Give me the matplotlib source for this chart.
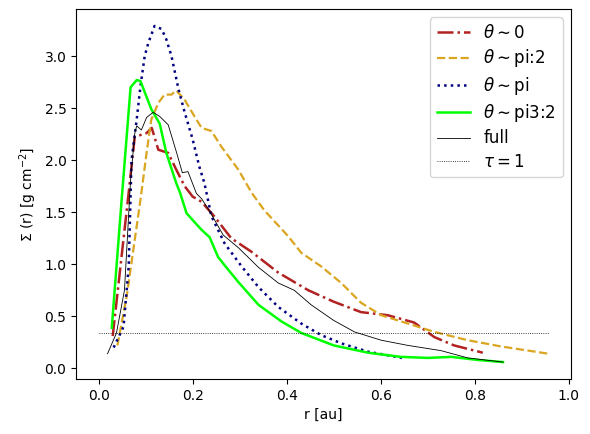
import numpy as np
import matplotlib
matplotlib.use("Agg")
import matplotlib.pyplot as plt

# radius [au] and surface density [g cm^-2]
r_0 = [0.030, 0.064, 0.077, 0.088, 0.102, 0.113, 0.127, 0.148, 0.165, 0.183, 0.200, 0.219,
       0.246, 0.282, 0.325, 0.382, 0.446, 0.500, 0.558, 0.615, 0.671, 0.714, 0.756, 0.817]
s_0 = [0.31, 1.69, 2.23, 2.24, 2.26, 2.31, 2.10, 2.07, 1.91, 1.75, 1.65, 1.60,
       1.46, 1.25, 1.12, 0.92, 0.75, 0.64, 0.54, 0.51, 0.44, 0.30, 0.22, 0.15]

r_pi2 = [0.040, 0.060, 0.089, 0.102, 0.112, 0.127, 0.140, 0.155, 0.165, 0.183, 0.204, 0.219,
         0.240, 0.261, 0.297, 0.325, 0.352, 0.403, 0.431, 0.473, 0.516, 0.558, 0.601, 0.658,
         0.714, 0.785, 0.856, 0.957]
s_pi2 = [0.22, 0.70, 1.62, 2.07, 2.39, 2.55, 2.63, 2.63, 2.67, 2.58, 2.42, 2.31,
         2.28, 2.13, 1.91, 1.69, 1.52, 1.27, 1.11, 0.98, 0.82, 0.63, 0.51, 0.43,
         0.35, 0.27, 0.21, 0.14]

r_pi = [0.032, 0.053, 0.064, 0.070, 0.081, 0.089, 0.098, 0.106, 0.119, 0.134, 0.144, 0.155,
        0.170, 0.183, 0.200, 0.214, 0.225, 0.240, 0.268, 0.304, 0.340, 0.382, 0.431, 0.473,
        0.516, 0.573, 0.645]
s_pi = [0.20, 0.40, 0.98, 2.00, 2.39, 2.71, 3.00, 3.13, 3.29, 3.26, 3.16, 3.00,
        2.68, 2.46, 2.20, 1.94, 1.78, 1.46, 1.20, 0.98, 0.78, 0.59, 0.43, 0.32,
        0.24, 0.16, 0.10]

r_3pi2 = [0.028, 0.049, 0.068, 0.081, 0.089, 0.112, 0.130, 0.144, 0.165, 0.173, 0.187, 0.219,
          0.236, 0.254, 0.268, 0.297, 0.340, 0.389, 0.431, 0.500, 0.573, 0.643, 0.700, 0.750,
          0.807, 0.860]
s_3pi2 = [0.39, 1.62, 2.70, 2.77, 2.76, 2.49, 2.35, 2.07, 1.78, 1.69, 1.49, 1.33,
          1.26, 1.07, 0.99, 0.83, 0.61, 0.45, 0.34, 0.22, 0.15, 0.11, 0.10, 0.11,
          0.08, 0.06]

r_full = [0.019, 0.038, 0.055, 0.068, 0.077, 0.081, 0.091, 0.102, 0.116, 0.130, 0.148, 0.166,
          0.178, 0.190, 0.208, 0.219, 0.236, 0.265, 0.297, 0.340, 0.382, 0.416, 0.452, 0.500,
          0.544, 0.601, 0.658, 0.728, 0.785, 0.860]
s_full = [0.14, 0.34, 0.75, 1.81, 2.26, 2.33, 2.29, 2.41, 2.46, 2.42, 2.34, 2.07,
          1.88, 1.89, 1.68, 1.63, 1.51, 1.28, 1.16, 0.97, 0.82, 0.75, 0.61, 0.46,
          0.35, 0.27, 0.22, 0.17, 0.10, 0.06]

r_tau = [0.0, 0.957]
s_tau = [0.337, 0.337]


def main():
    fig = plt.figure(figsize=(5.9, 4.34), dpi=100)
    ax = fig.add_axes([0.129, 0.127, 0.839, 0.852])
    ax.plot(r_0, s_0, color="firebrick", ls="-.", lw=1.8, label=r"$\theta \sim $0")
    ax.plot(r_pi2, s_pi2, color="goldenrod", ls="--", lw=1.6, label=r"$\theta \sim $pi:2")
    ax.plot(r_pi, s_pi, color="navy", ls=":", lw=1.8, label=r"$\theta \sim $pi")
    ax.plot(r_3pi2, s_3pi2, color="lime", ls="-", lw=1.8, label=r"$\theta \sim $pi3:2")
    ax.plot(r_full, s_full, color="black", ls="-", lw=0.6, label="full")
    ax.plot(r_tau, s_tau, color="black", ls=":", lw=0.6, label=r"$\tau=1$")
    ax.set_xlabel("r [au]")
    ax.set_ylabel(r"$\Sigma$ (r) [g cm$^{-2}$]")
    ax.legend(loc="upper right", fontsize=12, labelspacing=0.32)
    fig.savefig("out.png", dpi=100)


if __name__ == "__main__":
    main()
